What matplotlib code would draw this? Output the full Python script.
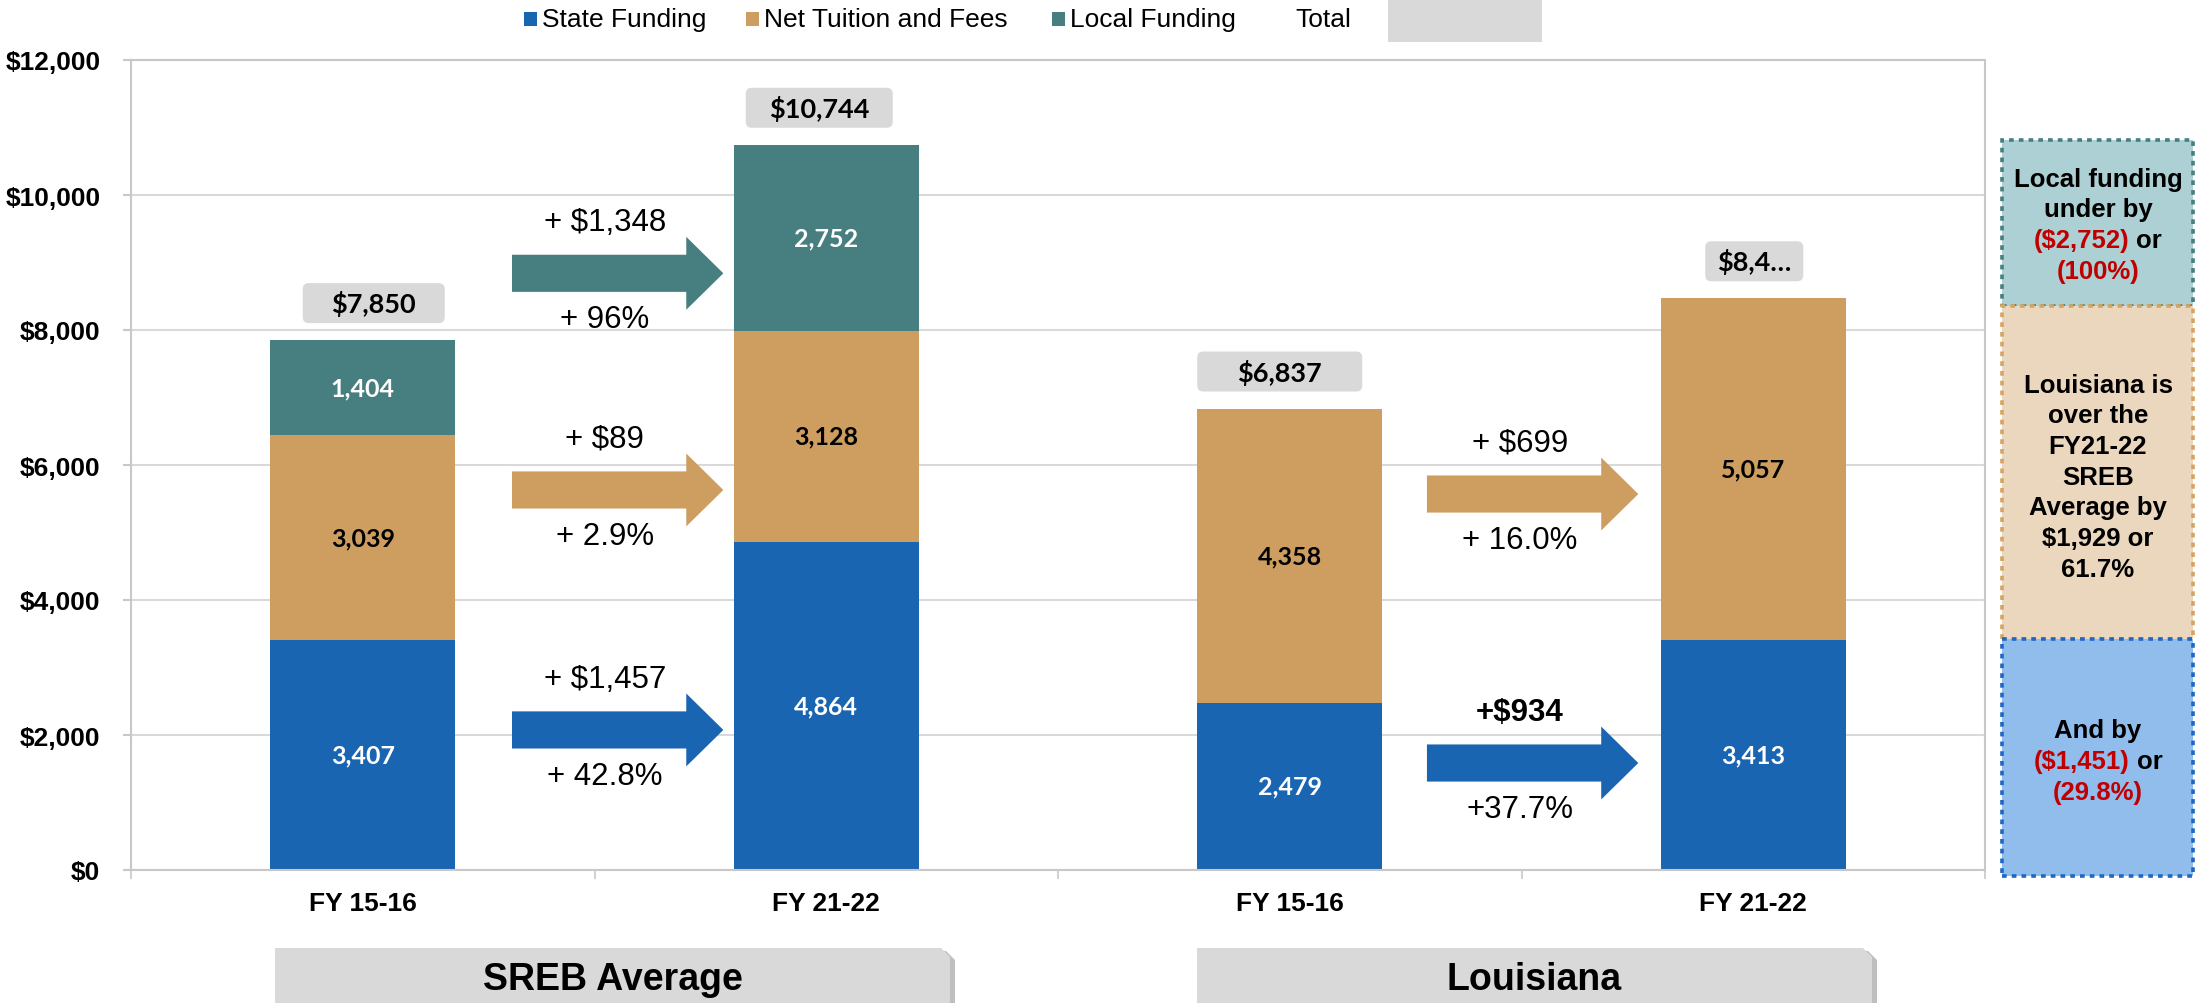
import matplotlib.pyplot as plt
from matplotlib.patches import Rectangle, FancyBboxPatch, FancyArrow, Polygon
from matplotlib.transforms import IdentityTransform

# data
categories = ['FY 15-16', 'FY 21-22', 'FY 15-16', 'FY 21-22']
groups = ['SREB Average', 'Louisiana']
state = [3407, 4864, 2479, 3413]
tuition = [3039, 3128, 4358, 5057]
local = [1404, 2752, 0, 0]
total_labels = ['$7,850', '$10,744', '$6,837', '$8,4…']
yticks = [0, 2000, 4000, 6000, 8000, 10000, 12000]

# change arrows between the two years of each group
sreb_top = ['+ $1,348', '+ $89', '+ $1,457']
sreb_bottom = ['+ 96%', '+ 2.9%', '+ 42.8%']
la_top = ['+ $699', '+$934']
la_bottom = ['+ 16.0%', '+37.7%']

# notes on the right
notes = [
    [[('Local funding', 'k')], [('under by', 'k')],
     [('($2,752)', '#C00000'), ('or', 'k')], [('(100%)', '#C00000')]],
    [[('Louisiana is', 'k')], [('over the', 'k')], [('FY21-22', 'k')], [('SREB', 'k')],
     [('Average by', 'k')], [('$1,929 or', 'k')], [('61.7%', 'k')]],
    [[('And by', 'k')], [('($1,451)', '#C00000'), ('or', 'k')], [('(29.8%)', '#C00000')]],
]

BLUE = '#1A65B2'
TAN = '#CE9E61'
TEAL = '#477E80'
GRAY = '#D9D9D9'
LINE = '#C8C8C8'
SANS = 'Liberation Sans'

W, H = 2196, 1004
AX_L, AX_R, AX_T, AX_B = 131, 1985, 61, 871

fig = plt.figure(figsize=(W / 100, H / 100), dpi=100)
ax = fig.add_axes([AX_L / W, 1 - AX_B / H, (AX_R - AX_L) / W, (AX_B - AX_T) / H])

x = list(range(len(categories)))
mid = [s + t for s, t in zip(state, tuition)]
totals = [m + l for m, l in zip(mid, local)]

ax.bar(x, state, width=0.4, color=BLUE, zorder=2)
ax.bar(x, tuition, width=0.4, bottom=state, color=TAN, zorder=2)
ax.bar(x, local, width=0.4, bottom=mid, color=TEAL, zorder=2)

# segment labels
for i in x:
    segs = [(0, state[i], 'white'), (state[i], tuition[i], 'black'), (mid[i], local[i], 'white')]
    for bot, val, col in segs:
        if val > 0:
            ax.text(i, bot + val / 2, f'{val:,}', ha='center', va='center', color=col,
                    fontsize=18, fontweight='bold', family='Lato', zorder=3)

ax.set_xlim(-0.5, 3.5)
ax.set_ylim(0, 12000)
ax.set_yticks(yticks)
ax.set_yticklabels([f'${v:,}' for v in yticks], fontsize=19, fontweight='bold', family=SANS)
ax.set_xticks(x)
ax.set_xticklabels(categories, fontsize=19, fontweight='bold', family=SANS)
ax.set_xticks([-0.5, 0.5, 1.5, 2.5, 3.5], minor=True)
ax.tick_params(axis='x', which='major', length=0, pad=15)
ax.tick_params(axis='x', which='minor', length=6.5, width=1.2, color=LINE)
ax.tick_params(axis='y', length=6, width=1.5, color=LINE, pad=16)
ax.yaxis.grid(True, color=GRAY, lw=1.5)
ax.set_axisbelow(True)
for sp in ax.spines.values():
    sp.set_color(LINE)
    sp.set_linewidth(1.5)

# arrows
sreb_y = [8840, 5630, 2075]
la_y = [5570, 1585]
arrow_sets = [(0.322, sreb_y, [TEAL, TAN, BLUE], sreb_top, sreb_bottom),
              (2.296, la_y, [TAN, BLUE], la_top, la_bottom)]
for x0, ys, cols, tops, bots in arrow_sets:
    for k, (yy, col) in enumerate(zip(ys, cols)):
        ax.add_patch(FancyArrow(x0, yy, 0.456, 0, width=550, head_width=1080,
                                head_length=0.08, length_includes_head=True,
                                color=col, lw=0, zorder=3))
        xc = x0 + 0.2
        bold = 'bold' if tops[k] == '+$934' else 'normal'
        ax.annotate(tops[k], (xc, yy), xytext=(0, 37), textcoords='offset points',
                    ha='center', va='center', fontsize=22.5, fontweight=bold, family=SANS)
        ax.annotate(bots[k], (xc, yy), xytext=(0, -33), textcoords='offset points',
                    ha='center', va='center', fontsize=22.5, family=SANS)

# total callouts (drawn in pixels above each bar)
tot_dx = [11, -7, -10, 1]
tot_w = [142, 147, 165, 98]
for i in x:
    bx, by = ax.transData.transform((i, totals[i]))
    cx = bx + tot_dx[i]
    b0 = by + 17
    box = FancyBboxPatch((cx - tot_w[i] / 2, b0), tot_w[i], 40,
                         boxstyle='round,pad=0,rounding_size=6', fc=GRAY, ec='none',
                         transform=IdentityTransform(), zorder=4)
    fig.add_artist(box)
    fig.text(cx / W, (b0 + 20) / H, total_labels[i], ha='center', va='center',
             fontsize=19.5, fontweight='bold', family='Lato', zorder=5)

# legend
leg = [(524, BLUE, 'State Funding'), (746, TAN, 'Net Tuition and Fees'), (1052, TEAL, 'Local Funding')]
for lx, col, lab in leg:
    fig.add_artist(Rectangle((lx / W, 1 - 27 / H), 13 / W, 14 / H, transform=fig.transFigure,
                             fc=col, ec='none'))
    fig.text((lx + 18) / W, 1 - 20 / H, lab, ha='left', va='center', fontsize=19, family=SANS)
fig.text(1295 / W, 1 - 20 / H, 'Total', ha='left', va='center', fontsize=19, family=SANS)
fig.add_artist(Rectangle((1388 / W, 1 - 43 / H), 154 / W, 43 / H, transform=fig.transFigure,
                         fc=GRAY, ec='none'))

# group boxes at the bottom
for (x0, x1), lab in zip([(275, 950), (1197, 1872)], groups):
    top = H - 949
    r = 9
    pts = [(x0, -20), (x0, top), (x1 - r, top), (x1, top - r), (x1, -20)]
    shadow = Polygon([(px + 5, py - 3) for px, py in pts], closed=True, fc='#8C8C8C',
                     ec='none', alpha=0.55, transform=IdentityTransform())
    fig.add_artist(shadow)
    fig.add_artist(Polygon(pts, closed=True, fc=GRAY, ec='none', transform=IdentityTransform()))
    fig.text((x0 + x1) / 2 / W, 24 / H, lab, ha='center', va='center', fontsize=27,
             fontweight='bold', family=SANS)

# note boxes on the right
renderer = fig.canvas.get_renderer()
note_boxes = [(141, 307, '#ACD0D4', TEAL, [180, 210.5, 241, 272]),
              (307, 640, '#EAD7BD', '#D5A462', [386, 416.5, 447, 478, 508, 539, 570]),
              (640, 877, '#91BDED', '#1F67C4', [731, 762, 793])]
for (y0, y1, fc, ec, line_y), lines in zip(note_boxes, notes):
    fig.add_artist(Rectangle((2002 / W, 1 - y1 / H), 191 / W, (y1 - y0) / H,
                             transform=fig.transFigure, fc=fc, ec=ec, lw=2.6,
                             ls=(0, (1.3, 1.4))))
    for parts, ly in zip(lines, line_y):
        arts = [fig.text(0, 0, s, color=c, fontsize=18.5, fontweight='bold', family=SANS,
                         ha='left', va='center') for s, c in parts]
        widths = [a.get_window_extent(renderer).width for a in arts]
        gap = 7
        xx = 2098 - (sum(widths) + gap * (len(arts) - 1)) / 2
        for a, w in zip(arts, widths):
            a.set_position((xx / W, 1 - ly / H))
            xx += w + gap

fig.savefig('out.png', dpi=100)
